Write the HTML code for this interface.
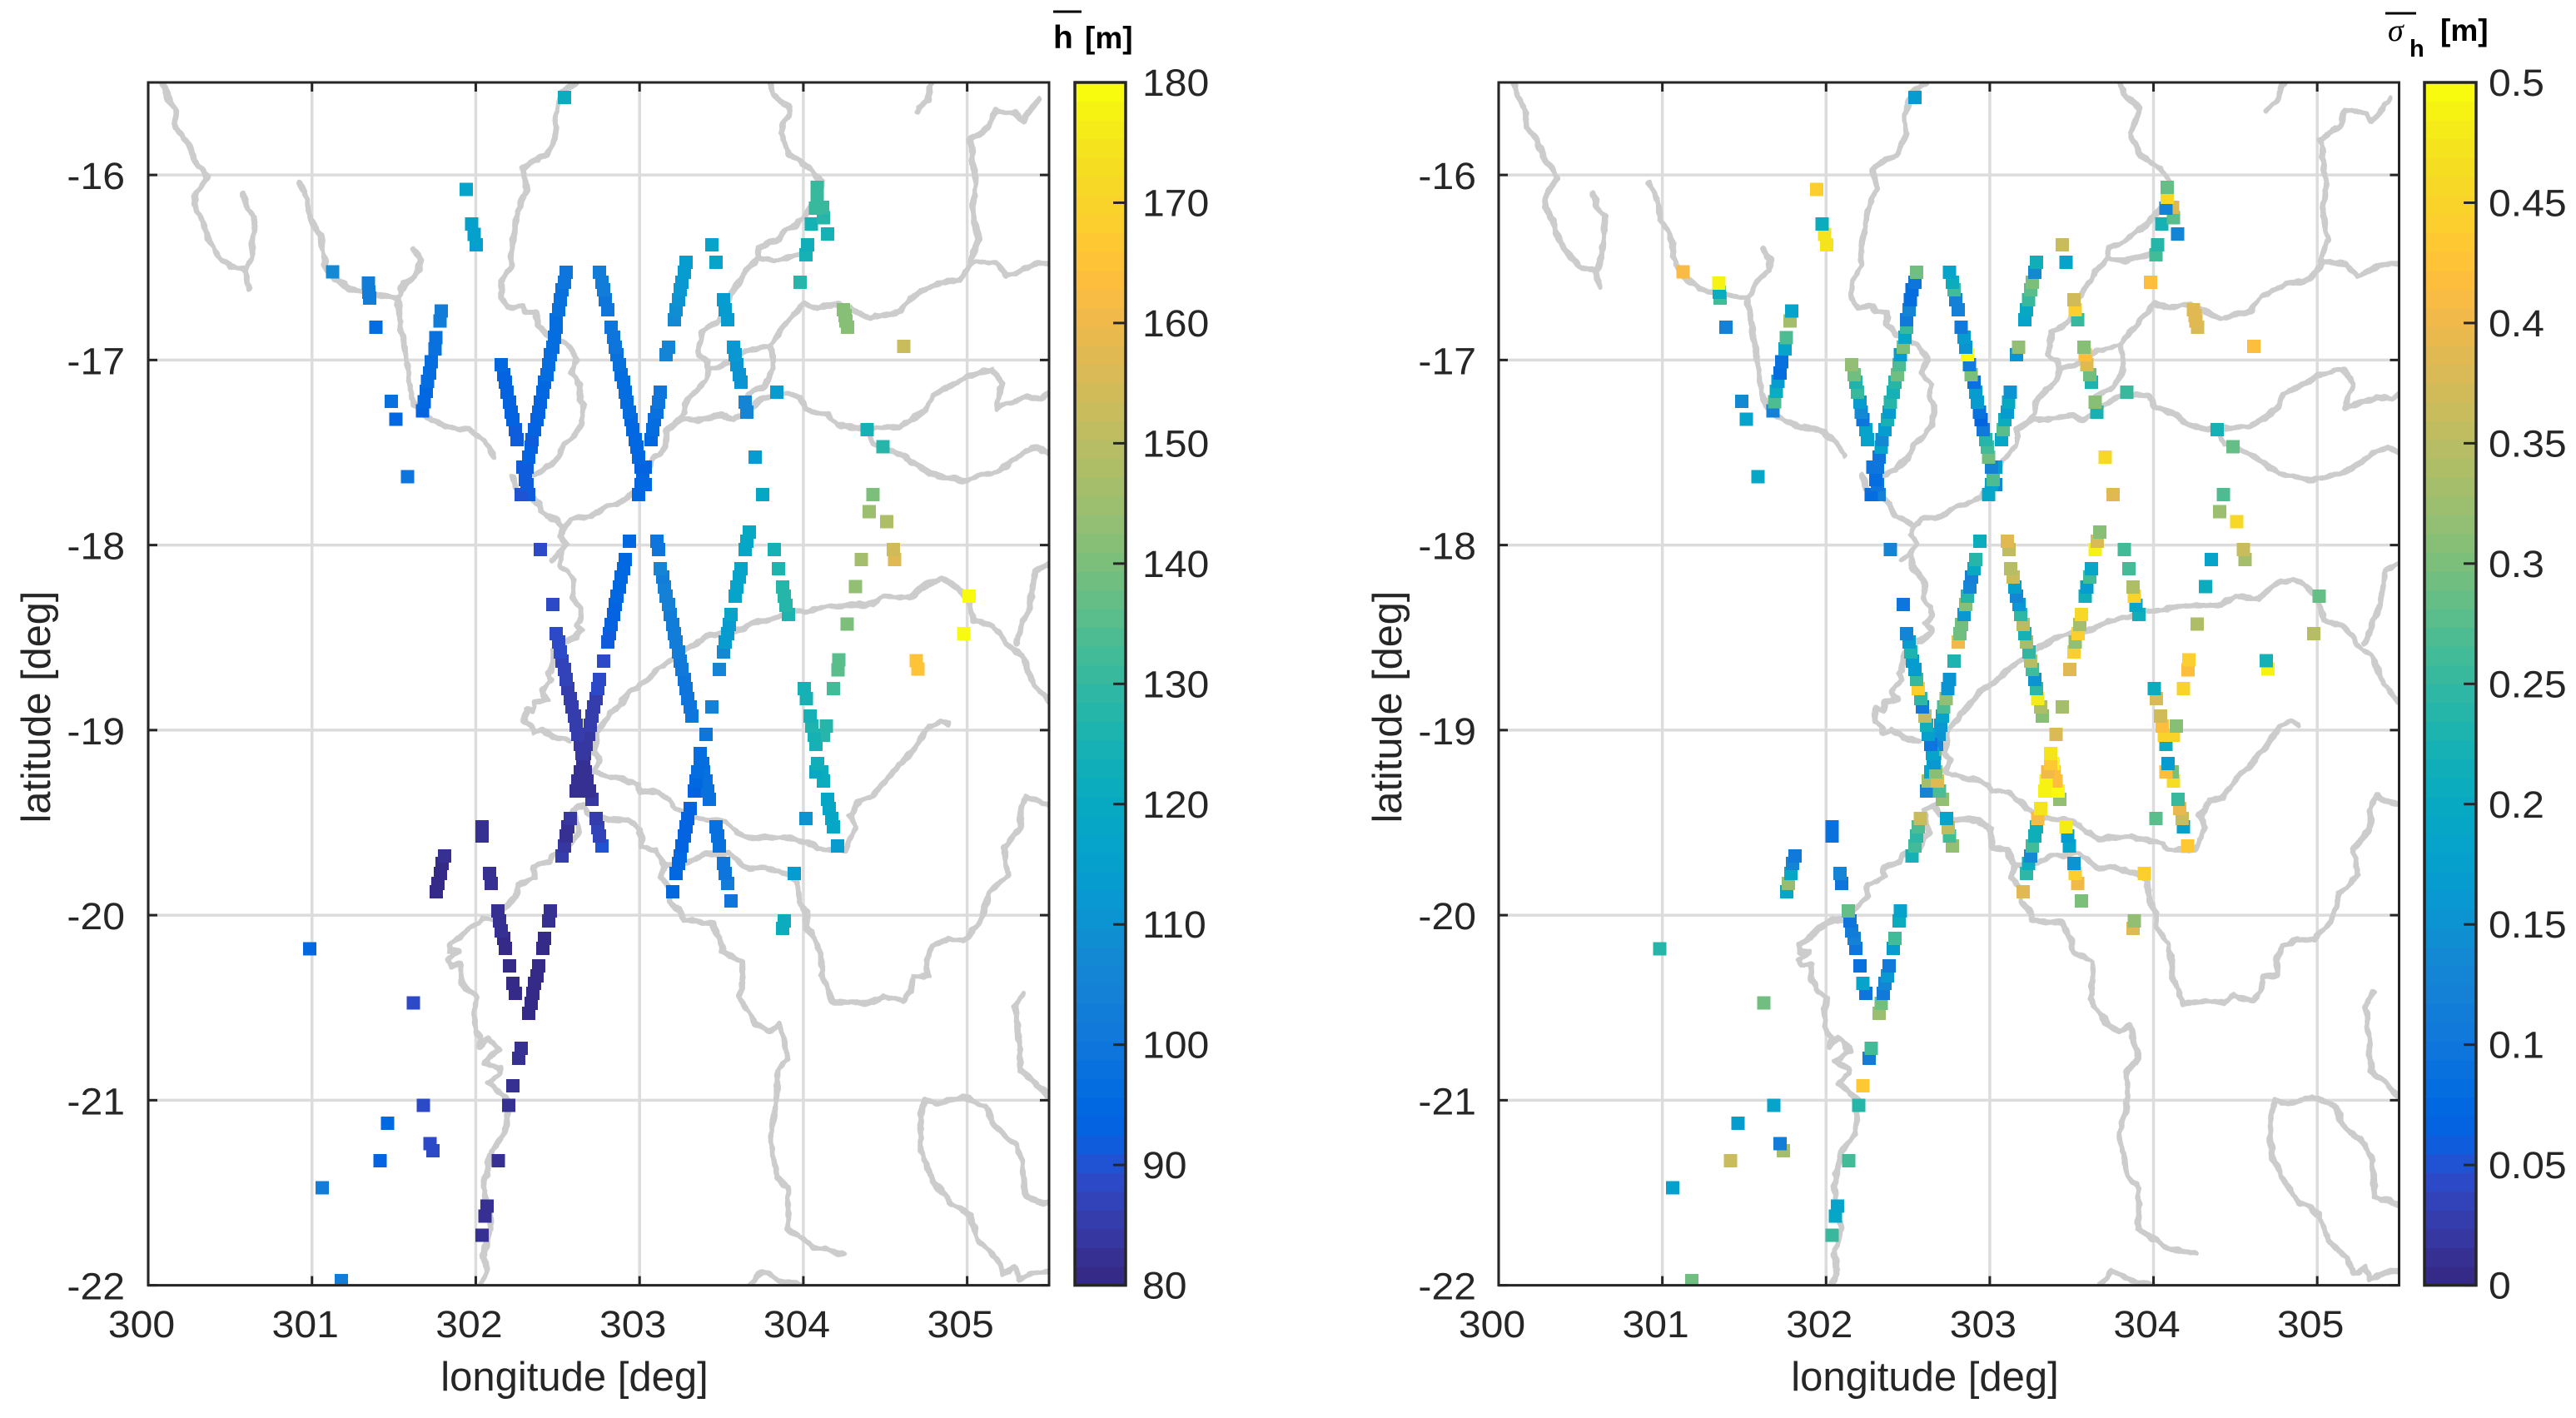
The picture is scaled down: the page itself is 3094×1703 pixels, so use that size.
<!DOCTYPE html>
<html lang="en">
<head>
<meta charset="utf-8">
<title>Mean height and height deviation maps</title>
<style>
html,body{margin:0;padding:0;background:#fff;}
svg{display:block;}
text{font-family:"Liberation Sans",sans-serif;fill:#262626;}
</style>
</head>
<body>
<svg id="figure" xmlns="http://www.w3.org/2000/svg" width="3094" height="1703" viewBox="0 0 3094 1703">
  <rect x="0" y="0" width="3094" height="1703" fill="#ffffff"/>
  <defs>
    <clipPath id="clip-left"><rect x="178" y="99" width="1082" height="1444.6"/></clipPath>
    <clipPath id="clip-right"><rect x="1800" y="99" width="1081.5" height="1444.6"/></clipPath>
    <filter id="rough" x="-5%" y="-5%" width="110%" height="110%" filterUnits="objectBoundingBox">
      <feTurbulence type="fractalNoise" baseFrequency="0.07" numOctaves="2" seed="4" result="n"/>
      <feDisplacementMap in="SourceGraphic" in2="n" scale="7" xChannelSelector="R" yChannelSelector="G"/>
    </filter>
  </defs>
  <g id="panel-left"></g>
  <g id="panel-right"></g>

  <g><text transform="translate(690,1670)" font-size="49" text-anchor="middle">longitude [deg]</text></g>
  <g><text transform="translate(60,849) rotate(-90)" font-size="48.7" text-anchor="middle">latitude [deg]</text></g>
  <g><text transform="translate(2312,1670)" font-size="49" text-anchor="middle">longitude [deg]</text></g>
  <g><text transform="translate(1683,849) rotate(-90)" font-size="48.7" text-anchor="middle">latitude [deg]</text></g>

  <g>
    <line x1="1265" y1="14" x2="1299" y2="14" stroke="#000" stroke-width="3"/>
    <text x="1265" y="58" font-size="39" font-weight="bold" style="fill:#000">h</text>
    <text x="1303" y="58" font-size="37" font-weight="bold" style="fill:#000">[m]</text>
  </g>
  <g>
    <line x1="2865" y1="16" x2="2902" y2="16" stroke="#000" stroke-width="3"/>
    <text x="2868" y="49" font-size="38" font-style="italic" style="fill:#000;font-family:'Liberation Serif',serif">σ</text>
    <text x="2894" y="68" font-size="29" font-weight="bold" style="fill:#000">h</text>
    <text x="2931" y="49" font-size="37" font-weight="bold" style="fill:#000">[m]</text>
  </g>
</svg>
<script>
// ---------- axis ticks ----------
const xTicks = [300, 301, 302, 303, 304, 305];
const yTicks = [-16, -17, -18, -19, -20, -21, -22];
const heightTicks = [80, 90, 100, 110, 120, 130, 140, 150, 160, 170, 180];
const heightTickLabels = ['80', '90', '100', '110', '120', '130', '140', '150', '160', '170', '180'];
const deviationTicks = [0, 0.05, 0.1, 0.15, 0.2, 0.25, 0.3, 0.35, 0.4, 0.45, 0.5];
const deviationTickLabels = ['0', '0.05', '0.1', '0.15', '0.2', '0.25', '0.3', '0.35', '0.4', '0.45', '0.5'];

// ---------- observation locations and values (one line per track) ----------
const lons = [
302.552,302.542,302.526,302.516,302.506,302.491,302.491,302.481,302.471,302.455,302.445,302.435,302.420,302.410,302.394,302.384,302.374,302.359,302.343,302.338,302.323,302.287,302.313,302.303,302.313,302.277,302.323,
302.155,302.171,302.181,302.191,302.206,302.216,302.226,302.242,302.252,
302.755,302.771,302.781,302.791,302.806,302.826,302.842,302.852,302.862,302.877,302.887,302.903,302.913,302.923,302.938,302.948,302.959,302.974,302.984,302.994,303.010,303.035,303.020,303.010,303.035,302.994,
303.126,303.116,303.106,303.091,303.081,303.071,
303.284,303.274,303.259,303.249,303.238,303.223,303.213,303.177,303.162,
303.513,303.523,303.538,303.574,303.584,303.594,303.610,303.620,303.645,303.655,
303.442,303.467,303.981,303.838,303.706,303.752,
302.542,301.943,301.975,301.990,302.003,301.126,301.344,301.347,301.352,301.389,
301.790,301.781,301.757,301.750,301.728,301.718,301.705,301.697,301.685,301.675,
301.484,301.512,301.584,
304.084,304.084,304.075,304.118,304.123,304.050,304.147,304.026,304.016,
304.245,304.255,304.260,304.270,
304.613,304.390,304.485,304.426,304.403,304.508,304.549,304.558,304.353,304.317,304.267,305.012,304.980,304.689,304.700,304.217,304.212,304.184,
302.394,302.471,302.939,302.781,303.442,303.406,
302.913,302.903,302.888,302.878,302.862,302.852,302.842,302.827,302.817,302.806,
302.491,302.506,302.517,302.527,302.542,302.552,302.562,302.578,302.588,302.603,302.613,302.623,302.639,302.649,302.659,302.669,302.679,302.694,302.710,
302.755,302.744,302.734,302.719,302.710,302.700,302.689,302.674,302.664,302.654,302.639,302.623,302.613,
302.577,302.562,302.552,302.542,302.526,
302.735,302.745,302.755,302.771,
303.106,303.117,303.127,303.142,303.152,303.162,303.178,303.188,303.203,303.213,303.223,303.239,303.249,303.259,303.274,303.284,303.294,303.310,303.320,
303.671,303.656,303.645,303.620,303.610,303.594,303.584,303.559,303.549,303.539,303.523,303.513,303.488,
303.823,303.849,303.874,303.884,303.894,303.910,
303.371,303.371,303.355,303.345,303.335,
303.386,303.391,303.406,303.417,303.427,
303.310,303.294,303.284,303.274,303.259,303.249,303.238,303.223,303.203,
303.467,303.477,303.487,303.513,303.523,303.538,303.559,
304.016,303.945,303.884,303.874,
304.006,304.017,304.042,304.052,304.139,304.067,304.123,304.077,304.088,304.077,304.113,304.123,304.149,304.159,304.174,304.184,304.209,
302.038,302.038,302.084,302.094,
301.810,301.794,301.784,301.769,301.759,
302.135,302.145,302.155,302.171,302.181,302.206,302.226,302.242,
302.455,302.445,302.420,302.410,302.384,302.374,302.359,302.349,302.338,302.323,
302.277,302.262,302.226,302.200,302.138,302.070,302.056,302.038,
301.180,301.062,301.416,301.720,301.739,301.462,301.680,301.620,300.985
];
const lats = [
-16.525,-16.580,-16.620,-16.674,-16.728,-16.782,-16.823,-16.877,-16.931,-16.971,-17.025,-17.079,-17.120,-17.174,-17.228,-17.282,-17.322,-17.376,-17.430,-17.471,-17.525,-17.579,-17.579,-17.646,-17.673,-17.727,-17.727,
-17.025,-17.079,-17.120,-17.174,-17.228,-17.282,-17.322,-17.376,-17.430,
-16.525,-16.580,-16.620,-16.674,-16.728,-16.823,-16.877,-16.931,-16.971,-17.025,-17.079,-17.120,-17.174,-17.228,-17.282,-17.322,-17.376,-17.430,-17.471,-17.525,-17.579,-17.579,-17.646,-17.673,-17.673,-17.727,
-17.174,-17.228,-17.282,-17.322,-17.376,-17.430,
-16.472,-16.525,-16.580,-16.620,-16.674,-16.728,-16.782,-16.931,-16.971,
-16.674,-16.728,-16.782,-16.931,-16.971,-17.025,-17.079,-17.120,-17.228,-17.282,
-16.377,-16.472,-16.580,-17.174,-17.525,-17.727,
-15.580,-16.078,-16.266,-16.322,-16.378,-16.524,-16.585,-16.634,-16.665,-16.822,
-16.735,-16.790,-16.880,-16.940,-17.010,-17.070,-17.115,-17.170,-17.225,-17.275,
-17.224,-17.320,-17.630,
-16.066,-16.120,-16.180,-16.176,-16.232,-16.266,-16.320,-16.378,-16.432,
-16.728,-16.760,-16.790,-16.823,
-16.927,-17.376,-17.468,-17.727,-17.820,-17.873,-18.024,-18.078,-18.078,-18.224,-18.427,-18.276,-18.478,-18.624,-18.670,-18.620,-18.675,-18.776,
-18.024,-18.321,-17.979,-18.627,-18.875,-19.023,
-18.078,-18.128,-18.173,-18.227,-18.276,-18.321,-18.375,-18.429,-18.479,-18.524,
-18.479,-18.524,-18.578,-18.627,-18.672,-18.726,-18.776,-18.830,-18.875,-18.924,-18.974,-19.023,-19.077,-19.127,-19.176,-19.226,-19.275,-19.329,-19.374,
-18.726,-18.776,-18.830,-18.875,-18.924,-18.974,-19.023,-19.077,-19.127,-19.176,-19.226,-19.275,-19.329,
-19.478,-19.523,-19.572,-19.626,-19.680,
-19.478,-19.527,-19.572,-19.626,
-17.979,-18.024,-18.128,-18.173,-18.227,-18.276,-18.321,-18.375,-18.429,-18.479,-18.524,-18.578,-18.627,-18.672,-18.726,-18.776,-18.830,-18.875,-18.924,
-17.930,-17.979,-18.024,-18.128,-18.173,-18.227,-18.276,-18.375,-18.429,-18.479,-18.524,-18.578,-18.672,
-18.024,-18.128,-18.227,-18.276,-18.326,-18.375,
-19.127,-19.181,-19.226,-19.275,-19.329,
-19.181,-19.226,-19.275,-19.329,-19.374,
-19.424,-19.478,-19.523,-19.572,-19.626,-19.680,-19.721,-19.775,-19.874,
-19.523,-19.572,-19.626,-19.721,-19.775,-19.829,-19.923,
-19.478,-19.775,-20.031,-20.072,
-18.776,-18.830,-18.924,-18.978,-18.978,-19.028,-19.028,-19.077,-19.181,-19.226,-19.226,-19.275,-19.374,-19.424,-19.478,-19.523,-19.626,
-19.523,-19.572,-19.775,-19.829,
-19.680,-19.721,-19.775,-19.829,-19.874,
-19.977,-20.031,-20.085,-20.126,-20.180,-20.274,-20.369,-20.423,
-19.977,-20.031,-20.126,-20.180,-20.274,-20.328,-20.369,-20.423,-20.477,-20.531,
-20.720,-20.774,-20.922,-21.028,-21.327,-21.572,-21.625,-21.730,
-21.975,-21.474,-21.327,-21.234,-21.273,-21.124,-21.028,-20.475,-20.182
];
const heights = [
100,99,98,98,98,97,97,97,96,96,96,96,95,95,94,94,94,93,92,93,93,91,91,91,91,90,91,
95,94,94,94,93,93,93,91,91,
103,103,102,100,100,100,99,99,98,98,97,97,96,96,96,95,95,95,95,95,94,94,95,95,95,95,
100,99,98,97,96,95,
113,113,112,112,111,109,107,106,106,
113,113,113,112,112,111,111,110,106,106,
116,116,127,113,114,118,
121,116,115,115,115,108,103,103,103,97,
102,102,98,98,96,96,96,95,95,94,
98,95,100,
131,131,131,130,127,125,125,123,124,
141,141,141,141,
152,124,127,140,145,148,154,157,146,144,140,180,180,165,165,136,136,133,
88,88,95,88,104,100,
95,95,95,95,95,94,94,94,92,91,
89,88,88,87,87,87,86,85,86,85,85,85,84,84,83,82,82,83,84,
88,88,86,85,85,85,84,84,84,83,83,83,83,
84,83,83,84,86,
86,87,87,90,
99,99,105,103,104,104,104,103,103,103,102,102,101,101,100,100,100,100,99,
120,119,119,117,117,117,116,116,114,113,113,108,106,
124,126,128,128,128,126,
96,96,96,95,94,
97,98,98,98,98,
94,94,94,94,94,95,95,95,95,
98,98,98,100,100,102,100,
110,113,122,122,
125,125,125,126,127,125,127,125,123,120,122,122,118,118,118,118,113,
83,83,82,83,
82,81,81,80,80,
82,82,82,81,81,81,81,81,
82,82,81,81,81,81,81,81,81,81,
82,82,82,82,82,82,82,82,
102,103,94,88,88,95,88,88,95
];
const deviations = [
.29,.10,.085,.08,.125,.105,.25,.19,.30,.17,.27,.29,.24,.22,.24,.17,.225,.17,.135,.18,.10,.10,.10,.08,.10,.08,.12,
.32,.295,.23,.25,.17,.14,.10,.18,.18,
.18,.21,.26,.12,.12,.105,.165,.155,.50,.11,.30,.09,.17,.165,.09,.07,.105,.24,.26,.29,.12,.17,.27,.18,.14,.19,
.155,.20,.165,.21,.275,.195,
.215,.14,.30,.28,.25,.20,.185,.32,.15,
.37,.44,.25,.31,.42,.39,.295,.23,.31,.22,
.36,.18,.415,.25,.46,.39,
.165,.44,.21,.47,.475,.41,.49,.21,.26,.12,
.18,.33,.27,.18,.09,.08,.165,.21,.27,.12,
.14,.18,.19,
.285,.46,.12,.38,.275,.225,.13,.235,.26,
.385,.385,.385,.38,
.42,.22,.285,.27,.325,.46,.36,.335,.18,.21,.34,.285,.345,.225,.49,.44,.42,.45,
.125,.10,.21,.23,.33,.38,
.24,.20,.12,.125,.24,.31,.16,.295,.29,.405,
.13,.17,.23,.165,.165,.255,.44,.245,.105,.355,.215,.175,.10,.185,.16,.31,.385,.27,.32,
.155,.155,.32,.27,.18,.16,.15,.13,.30,.18,.18,.33,.13,
.36,.27,.245,.26,.225,
.185,.355,.26,.32,
.385,.355,.35,.36,.175,.125,.16,.245,.35,.225,.33,.245,.35,.26,.15,.245,.48,.34,.305,
.31,.38,.49,.19,.26,.165,.215,.46,.33,.44,.315,.44,.39,
.265,.26,.34,.45,.195,.215,
.47,.43,.40,.485,.49,
.50,.42,.42,.495,.32,
.47,.41,.215,.215,.26,.14,.205,.245,.385,
.48,.17,.185,.155,.44,.405,.30,
.28,.44,.315,.385,
.205,.38,.37,.42,.305,.45,.45,.21,.17,.42,.30,.465,.25,.395,.365,.175,.43,
.09,.09,.125,.10,
.105,.125,.19,.32,.195,
.285,.10,.115,.12,.10,.09,.18,.10,
.18,.205,.265,.17,.105,.16,.13,.105,.295,.325,
.265,.115,.43,.24,.26,.185,.195,.255,
.295,.175,.36,.115,.33,.17,.18,.29,.24
];

// ---------- rivers as lon,lat sequences ----------
const rivers = [
[300.086,-15.5,300.118,-15.578,300.163,-15.651,300.172,-15.749,300.232,-15.81,300.286,-15.92,300.359,-16.012,300.359,-16.02,300.30,-16.09,300.277,-16.163,300.331,-16.249,300.368,-16.346,300.436,-16.444,300.504,-16.498,300.586,-16.51,300.608,-16.566,300.617,-16.61],
[300.576,-16.098,300.604,-16.176,300.649,-16.224,300.64,-16.346,300.631,-16.444,300.595,-16.517],
[300.921,-16.041,300.967,-16.127,300.994,-16.249,301.049,-16.322,301.085,-16.493,301.139,-16.566,301.23,-16.615,301.366,-16.644,301.503,-16.663,301.525,-16.663],
[301.616,-16.4,301.661,-16.456,301.652,-16.517,301.571,-16.578,301.525,-16.663,301.548,-16.859,301.584,-17.005,301.593,-17.127,301.63,-17.249,301.707,-17.31,301.82,-17.359,301.956,-17.376,302.047,-17.432,302.115,-17.522],
[302.615,-15.5,302.524,-15.554,302.478,-15.688,302.492,-15.773,302.433,-15.895,302.329,-15.932,302.288,-15.968,302.311,-16.078,302.252,-16.2,302.229,-16.322,302.215,-16.493,302.154,-16.584,302.154,-16.667,302.197,-16.719,302.281,-16.704,302.307,-16.742,302.375,-16.742,302.375,-16.809,302.434,-16.862,302.553,-16.914,302.586,-16.944,302.620,-16.997,302.586,-17.064,302.637,-17.139,302.637,-17.214,302.663,-17.244,302.646,-17.349,302.586,-17.424,302.536,-17.454,302.502,-17.529,302.417,-17.589,302.358,-17.619],
[302.222,-17.627,302.247,-17.694,302.324,-17.739,302.392,-17.777,302.40,-17.814,302.425,-17.844,302.492,-17.866,302.535,-17.904,302.518,-17.949,302.552,-17.994,302.526,-18.031,302.521,-18.114,302.603,-18.189,302.594,-18.279,302.637,-18.339,302.645,-18.392,302.611,-18.422,302.645,-18.459,302.611,-18.504,302.552,-18.519,302.476,-18.579,302.459,-18.684,302.442,-18.699,302.467,-18.729,302.399,-18.789,302.437,-18.834,302.357,-18.849,302.348,-18.894,302.306,-18.879,302.298,-18.954,302.34,-18.977,302.348,-19.014,302.399,-18.999,302.467,-19.036,302.569,-19.059],
[302.526,-18.031,302.467,-18.077],
[302.535,-17.904,302.586,-17.859,302.704,-17.844,302.79,-17.792,302.891,-17.769,302.976,-17.709,303.078,-17.537,303.163,-17.469,303.163,-17.379,303.231,-17.334,303.273,-17.289,303.273,-17.244,303.341,-17.169,303.409,-17.109,303.426,-17.049,303.409,-17.004,303.358,-16.974,303.366,-16.914,303.383,-16.847,303.485,-16.787,303.561,-16.644,303.654,-16.509,303.722,-16.449,303.824,-16.464,303.993,-16.427],
[303.722,-16.449,303.727,-16.395,303.77,-16.38,303.84,-16.346,303.895,-16.30,303.954,-16.273,304.022,-16.2,304.09,-16.127,304.113,-16.041,304.045,-15.968,303.908,-15.883,303.863,-15.773,303.917,-15.639,303.817,-15.566,303.795,-15.5],
[303.426,-17.049,303.552,-17.011,303.654,-16.951,303.798,-16.921,303.815,-16.974,303.815,-17.049,303.764,-17.139,303.654,-17.192],
[303.798,-16.921,303.875,-16.824,304.002,-16.697,304.09,-16.717,304.226,-16.7,304.408,-16.773,304.589,-16.737,304.657,-16.663,304.816,-16.59,304.952,-16.566,305.043,-16.468,305.179,-16.48,305.247,-16.546,305.406,-16.48,305.5,-16.48],
[303.231,-17.334,303.266,-17.319,303.366,-17.322,303.502,-17.297,303.569,-17.327,303.654,-17.274,303.756,-17.207,303.883,-17.184,303.976,-17.199,304.01,-17.259,304.146,-17.297,304.203,-17.346,304.281,-17.364,304.385,-17.371,304.589,-17.359,304.748,-17.273,304.793,-17.188,304.998,-17.09,305.157,-17.049,305.216,-17.127,305.17,-17.261,305.361,-17.2,305.452,-17.212,305.5,-17.171],
[304.385,-17.371,304.43,-17.456,304.612,-17.517,304.771,-17.615,304.975,-17.651,305.179,-17.602,305.338,-17.505,305.429,-17.468,305.5,-17.505],
[304.793,-15.5,304.748,-15.602,304.689,-15.651],
[305.443,-15.585,305.338,-15.712,305.293,-15.663,305.179,-15.651,305.134,-15.737,305.02,-15.81,305.052,-16.029,305.034,-16.2,305.066,-16.346,305.02,-16.468],
[302.73,-19.089,302.738,-19.014,302.823,-18.909,302.891,-18.849,302.942,-18.789,303.026,-18.744,303.128,-18.662,303.281,-18.564,303.399,-18.504,303.50,-18.475,303.637,-18.452,303.687,-18.422,303.84,-18.392,303.941,-18.361,304.043,-18.354,304.145,-18.332,304.416,-18.321,304.5,-18.279,304.636,-18.286,304.657,-18.278,304.748,-18.212,304.852,-18.18,304.93,-18.224,304.998,-18.285,305.043,-18.407,305.157,-18.432,305.247,-18.541,305.338,-18.602,305.406,-18.749,305.5,-18.846],
[305.293,-18.529,305.384,-18.322,305.415,-18.139,305.5,-18.098],
[302.73,-19.089,302.721,-19.119,302.764,-19.157,302.721,-19.224,302.772,-19.247,302.891,-19.262,302.992,-19.299,303.009,-19.329,303.121,-19.337,303.189,-19.389,303.223,-19.427,303.324,-19.472,303.528,-19.494,303.596,-19.554,303.681,-19.584,303.884,-19.577,304.054,-19.614,304.088,-19.644,304.258,-19.644,304.317,-19.524,304.283,-19.464,304.342,-19.382,304.427,-19.359,304.498,-19.272,304.589,-19.186,304.68,-19.1,304.77,-18.978,304.839,-18.954,304.884,-18.966],
[302.171,-19.974,302.247,-19.899,302.256,-19.839,302.358,-19.794,302.349,-19.742,302.451,-19.712,302.468,-19.674,302.56,-19.64,302.629,-19.554,302.595,-19.434,302.671,-19.404,302.68,-19.449,302.782,-19.479,302.934,-19.487,303.002,-19.532,303.011,-19.629,303.104,-19.652,303.155,-19.734,303.129,-19.794,303.189,-19.854,303.189,-19.929,303.248,-19.982,303.265,-20.027,303.443,-20.042,303.494,-20.124,303.511,-20.199,303.613,-20.244,303.627,-20.25,303.63,-20.319,303.613,-20.446,303.704,-20.581,303.795,-20.63,303.854,-20.593,303.908,-20.776,303.84,-20.838,303.84,-21.009,303.795,-21.205,303.84,-21.413,303.908,-21.474,303.908,-21.694,304.067,-21.792,304.249,-21.833],
[303.155,-19.734,303.29,-19.719,303.392,-19.674,303.545,-19.667,303.664,-19.749,303.765,-19.742,303.901,-19.779,303.961,-19.809,303.978,-19.929,304.02,-19.989,304.02,-20.064,304.088,-20.154,304.113,-20.25,304.113,-20.324,304.181,-20.471,304.43,-20.471,304.498,-20.434,304.612,-20.466,304.657,-20.409,304.671,-20.336,304.762,-20.324,304.748,-20.238,304.793,-20.165,304.884,-20.128,304.975,-20.14,305.088,-20.03,305.134,-19.883,305.247,-19.785,305.225,-19.639,305.325,-19.529,305.325,-19.431,305.361,-19.357,305.5,-19.406],
[302.171,-19.967,302.103,-20.027,302.044,-20.019,301.968,-20.064,301.908,-20.117,301.841,-20.162,301.841,-20.192,301.892,-20.199,301.832,-20.237,301.849,-20.274,301.908,-20.267,301.908,-20.349,301.942,-20.402,302.01,-20.439,301.985,-20.514,302.002,-20.634,302.036,-20.664,302.019,-20.709,302.078,-20.664,302.146,-20.732,302.053,-20.792,302.146,-20.829,302.146,-20.859,302.078,-20.904,302.206,-21.009,302.174,-21.18,302.093,-21.278,302.047,-21.474,302.093,-21.694,302.047,-21.841,302.07,-21.914,302.034,-22.0],
[305.338,-20.421,305.293,-20.494,305.316,-20.642,305.325,-20.838,305.407,-20.899,305.5,-20.985],
[304.748,-20.997,304.716,-21.082,304.716,-21.278,304.793,-21.437,304.884,-21.547,305.02,-21.62,305.066,-21.755,305.179,-21.853,305.225,-21.939,305.293,-21.902,305.316,-21.968,305.429,-21.926,305.5,-21.926],
[304.748,-20.997,304.816,-21.021,304.975,-20.979,305.111,-21.033,305.157,-21.131,305.293,-21.241,305.338,-21.327,305.352,-21.523,305.5,-21.559],
[303.672,-22.0,303.75,-21.922,303.863,-21.975,303.999,-22.0]
];

// ---------- colormap ----------
const parula = [
[.2081,.1663,.5292],[.2116,.1898,.5777],[.2123,.2138,.6270],[.2081,.2386,.6771],[.1959,.2645,.7279],[.1707,.2919,.7792],[.1253,.3242,.8303],[.0591,.3598,.8683],
[.0117,.3875,.8820],[.0060,.4086,.8828],[.0165,.4266,.8786],[.0329,.4430,.8720],[.0498,.4586,.8641],[.0629,.4737,.8554],[.0723,.4887,.8467],[.0779,.5040,.8384],
[.0793,.5200,.8312],[.0749,.5375,.8263],[.0641,.5570,.8240],[.0488,.5772,.8228],[.0343,.5966,.8199],[.0265,.6137,.8135],[.0239,.6287,.8038],[.0231,.6418,.7913],
[.0228,.6535,.7768],[.0267,.6642,.7607],[.0384,.6743,.7436],[.0590,.6838,.7254],[.0843,.6928,.7062],[.1133,.7015,.6859],[.1453,.7098,.6646],[.1801,.7177,.6424],
[.2178,.7250,.6193],[.2586,.7317,.5954],[.3022,.7376,.5712],[.3482,.7424,.5473],[.3953,.7459,.5244],[.4420,.7481,.5033],[.4871,.7491,.4840],[.5300,.7491,.4661],
[.5709,.7485,.4494],[.6099,.7473,.4337],[.6473,.7456,.4188],[.6834,.7435,.4044],[.7184,.7411,.3905],[.7525,.7384,.3768],[.7858,.7356,.3633],[.8185,.7327,.3498],
[.8507,.7299,.3360],[.8824,.7274,.3217],[.9139,.7258,.3063],[.9450,.7261,.2886],[.9739,.7314,.2666],[.9938,.7455,.2403],[.9990,.7653,.2164],[.9955,.7861,.1967],
[.9880,.8066,.1794],[.9789,.8271,.1633],[.9697,.8481,.1475],[.9626,.8705,.1309],[.9589,.8949,.1132],[.9598,.9218,.0948],[.9661,.9514,.0755],[.9763,.9831,.0538]
];

const SVG_NS = 'http://www.w3.org/2000/svg';
const AX_TOP = 99, AX_BOTTOM = 1543.6, LON_MIN = 300, LON_MAX = 305.5, LAT_MAX = -15.5, LAT_MIN = -22;
const FRAME = '#262626', GRID = '#dcdcdc', RIVER = '#cccccc';

function node(tag, parent) {
  const el = document.createElementNS(SVG_NS, tag);
  parent.appendChild(el);
  return el;
}
function colorFor(value, vMin, vMax) {
  let i = Math.floor((value - vMin) / (vMax - vMin) * 64);
  i = Math.max(0, Math.min(63, i));
  const c = parula[i];
  return 'rgb(' + Math.round(c[0] * 255) + ',' + Math.round(c[1] * 255) + ',' + Math.round(c[2] * 255) + ')';
}
function drawPanel(opts) {
  const root = document.getElementById(opts.id);
  const xOf = lon => opts.x0 + (lon - LON_MIN) / (LON_MAX - LON_MIN) * (opts.x1 - opts.x0);
  const yOf = lat => AX_TOP + (LAT_MAX - lat) / (LAT_MAX - LAT_MIN) * (AX_BOTTOM - AX_TOP);

  // grid
  const grid = node('g', root);
  
  
  xTicks.forEach(t => {
    const l = node('line', grid);
    
    
    l.setAttribute('x1', xOf(t)); l.setAttribute('x2', xOf(t));
    l.setAttribute('y1', AX_TOP); l.setAttribute('y2', AX_BOTTOM);
    l.setAttribute('stroke', GRID); l.setAttribute('stroke-width', 3.5);
  });
  yTicks.forEach(t => {
    const l = node('line', grid);
    
    
    l.setAttribute('x1', opts.x0); l.setAttribute('x2', opts.x1);
    l.setAttribute('y1', yOf(t)); l.setAttribute('y2', yOf(t));
    l.setAttribute('stroke', GRID); l.setAttribute('stroke-width', 3.5);
  });

  const clipped = node('g', root);
  
  
  clipped.setAttribute('clip-path', 'url(#' + opts.clip + ')');

  // rivers
  const riverGroup = node('g', clipped);
  
  
  riverGroup.setAttribute('filter', 'url(#rough)');
  rivers.forEach(r => {
    const p = node('polyline', riverGroup);
    
    
    const pts = [];
    for (let i = 0; i < r.length; i += 2) pts.push(xOf(r[i]).toFixed(1) + ',' + yOf(r[i + 1]).toFixed(1));
    p.setAttribute('points', pts.join(' '));
    p.setAttribute('fill', 'none');
    p.setAttribute('stroke', RIVER);
    p.setAttribute('stroke-width', 7);
    p.setAttribute('stroke-linejoin', 'round');
    p.setAttribute('stroke-linecap', 'round');
  });

  // observation squares (northern points end up on top)
  const pointGroup = node('g', clipped);
  
  
  for (let i = lons.length - 1; i >= 0; i--) {
    const s = node('rect', pointGroup);
    
    
    s.setAttribute('x', (xOf(lons[i]) - 8).toFixed(1));
    s.setAttribute('y', (yOf(lats[i]) - 8).toFixed(1));
    s.setAttribute('width', 16);
    s.setAttribute('height', 16);
    s.setAttribute('fill', colorFor(opts.values[i], opts.vMin, opts.vMax));
    s.setAttribute('shape-rendering', 'crispEdges');
  }

  // frame
  const frame = node('rect', root);
  
  
  frame.setAttribute('x', opts.x0); frame.setAttribute('y', AX_TOP);
  frame.setAttribute('width', opts.x1 - opts.x0); frame.setAttribute('height', AX_BOTTOM - AX_TOP);
  frame.setAttribute('fill', 'none'); frame.setAttribute('stroke', FRAME); frame.setAttribute('stroke-width', 3);

  // x ticks and labels
  xTicks.forEach(t => {
    [[AX_TOP, AX_TOP + 11], [AX_BOTTOM, AX_BOTTOM - 11]].forEach(e => {
      const l = node('line', root);
      
      
      l.setAttribute('x1', xOf(t)); l.setAttribute('x2', xOf(t));
      l.setAttribute('y1', e[0]); l.setAttribute('y2', e[1]);
      l.setAttribute('stroke', FRAME); l.setAttribute('stroke-width', 3);
    });
    const txt = node('text', root);
    
    
    txt.setAttribute('transform', 'translate(' + (xOf(t) - 8) + ',1606) scale(1.07,1)');
    txt.setAttribute('font-size', 45);
    txt.setAttribute('text-anchor', 'middle');
    txt.textContent = String(t);
  });

  // y ticks and labels
  yTicks.forEach(t => {
    [[opts.x0, opts.x0 + 11], [opts.x1, opts.x1 - 11]].forEach(e => {
      const l = node('line', root);
      
      
      l.setAttribute('x1', e[0]); l.setAttribute('x2', e[1]);
      l.setAttribute('y1', yOf(t)); l.setAttribute('y2', yOf(t));
      l.setAttribute('stroke', FRAME); l.setAttribute('stroke-width', 3);
    });
    const txt = node('text', root);
    
    
    txt.setAttribute('transform', 'translate(' + opts.yLabelRight + ',' + (yOf(t) + 17) + ') scale(1.07,1)');
    txt.setAttribute('font-size', 45);
    txt.setAttribute('text-anchor', 'end');
    txt.textContent = String(t);
  });

  // colorbar
  const bar = node('g', root);
  
  
  const bandH = (AX_BOTTOM - AX_TOP) / 64;
  parula.forEach((c, i) => {
    const b = node('rect', bar);
    
    
    b.setAttribute('x', opts.barX);
    b.setAttribute('y', (AX_BOTTOM - (i + 1) * bandH).toFixed(2));
    b.setAttribute('width', opts.barW);
    b.setAttribute('height', (bandH + 0.6).toFixed(2));
    b.setAttribute('fill', 'rgb(' + Math.round(c[0] * 255) + ',' + Math.round(c[1] * 255) + ',' + Math.round(c[2] * 255) + ')');
  });
  const barFrame = node('rect', bar);
  
  
  barFrame.setAttribute('x', opts.barX); barFrame.setAttribute('y', AX_TOP);
  barFrame.setAttribute('width', opts.barW); barFrame.setAttribute('height', AX_BOTTOM - AX_TOP);
  barFrame.setAttribute('fill', 'none'); barFrame.setAttribute('stroke', FRAME); barFrame.setAttribute('stroke-width', 3.5);
  opts.ticks.forEach((t, i) => {
    const y = AX_BOTTOM - (t - opts.vMin) / (opts.vMax - opts.vMin) * (AX_BOTTOM - AX_TOP);
    const l = node('line', bar);
    
    
    l.setAttribute('x1', opts.barX + opts.barW - 15); l.setAttribute('x2', opts.barX + opts.barW);
    l.setAttribute('y1', y); l.setAttribute('y2', y);
    l.setAttribute('stroke', FRAME); l.setAttribute('stroke-width', 3);
    const txt = node('text', bar);
    
    
    txt.setAttribute('transform', 'translate(' + opts.barLabelX + ',' + (y + 16) + ') scale(1.07,1)');
    txt.setAttribute('font-size', 45);
    txt.textContent = opts.tickLabels[i];
  });
}

drawPanel({ id: 'panel-left', clip: 'clip-left', x0: 178, x1: 1260, yLabelRight: 150, values: heights, vMin: 80, vMax: 180,
  ticks: heightTicks, tickLabels: heightTickLabels, barX: 1291, barW: 61, barLabelX: 1372 });
drawPanel({ id: 'panel-right', clip: 'clip-right', x0: 1800, x1: 2881.5, yLabelRight: 1773, values: deviations, vMin: 0, vMax: 0.5,
  ticks: deviationTicks, tickLabels: deviationTickLabels, barX: 2912, barW: 62, barLabelX: 2989 });
</script>
</body>
</html>
